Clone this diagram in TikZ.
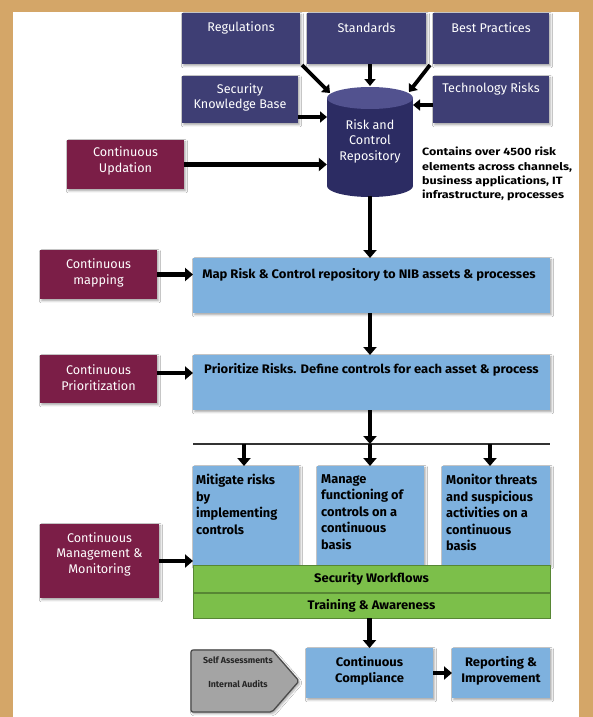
\documentclass[tikz,border=0pt]{standalone}
\usepackage{fontspec}
\setmainfont{Fira Sans}
\usetikzlibrary{arrows.meta,shadows.blur,calc}

\definecolor{frame}{HTML}{D4A668}
\definecolor{navy}{HTML}{3E3E74}
\definecolor{cylbody}{HTML}{2C2C63}
\definecolor{cyltop}{HTML}{52528F}
\definecolor{wine}{HTML}{7B1E47}
\definecolor{sky}{HTML}{7EB1DE}
\definecolor{leaf}{HTML}{7CBF4A}
\definecolor{stone}{HTML}{A4A4A4}

\tikzset{
  box/.style={rectangle, inner sep=0pt, outer sep=0pt,
    blur shadow={shadow xshift=1.5pt, shadow yshift=-1.8pt, shadow blur steps=4, shadow opacity=35}},
  navybox/.style={box, fill=navy},
  winebox/.style={box, fill=wine},
  skybox/.style={box, fill=sky},
  leafbox/.style={rectangle, inner sep=0pt, outer sep=0pt, fill=leaf, draw=leaf!70!black, line width=0.6pt},
  lighttext/.style={inner sep=0pt, text=white, align=center, font=\fontsize{12.6}{15.5}\selectfont},
  darktext/.style={inner sep=0pt, text=black, align=center,
    font=\bfseries\fontsize{12.4}{16}\selectfont\addfontfeature{FakeStretch=1.05}},
  listtext/.style={inner sep=0pt, text=black, align=left, anchor=north west,
    font=\bfseries\fontsize{12.8}{16.5}\selectfont},
  flow/.style={line width=4.5pt, -{Triangle[length=8pt,width=13pt]}},
  feed/.style={line width=3.8pt, -{Triangle[length=7pt,width=11pt]}}
}

\begin{document}
\begin{tikzpicture}[x=1pt,y=-1pt]
  % page frame
  \useasboundingbox (0,0) rectangle (593,717);
  \fill[frame] (0,0) rectangle (593,717);
  \fill[white] (13,12) rectangle (579,717);

  % sources feeding the repository
  \node[navybox, minimum width=118, minimum height=51] (reg)  at (241,38.5) {};
  \node[navybox, minimum width=119, minimum height=51] (std)  at (366.5,38.5) {};
  \node[navybox, minimum width=116, minimum height=51] (best) at (491,38.5) {};
  \node[navybox, minimum width=116, minimum height=47] (skb)  at (240,99.5) {};
  \node[navybox, minimum width=116, minimum height=47] (tech) at (491,99.5) {};
  \node[lighttext] (reg-t)  at (241,28) {Regulations};
  \node[lighttext] (std-t)  at (366.5,28) {Standards};
  \node[lighttext] (best-t) at (491,28) {Best Practices};
  \node[lighttext] (skb-t)  at (240,97.5) {Security\\Knowledge Base};
  \node[lighttext] (tech-t) at (491,89) {Technology Risks};

  % risk and control repository (cylinder)
  \fill[cylbody] (327,98) rectangle (413,186);
  \fill[cylbody] (370,186) ellipse [x radius=43, y radius=11];
  \fill[cyltop] (370,98) ellipse [x radius=43, y radius=11];
  \node[inner sep=0pt, minimum width=86, minimum height=110] (repo) at (370,142) {};
  \node[lighttext] (repo-t) at (370,141) {Risk and\\Control\\Repository};
  \node[inner sep=0pt, anchor=north west, align=left,
    font=\bfseries\fontsize{10.6}{14.3}\selectfont\addfontfeature{FakeStretch=1.18}] (note) at (422,147)
    {Contains over 4500 risk\\elements across channels,\\business applications, IT\\infrastructure, processes};

  \coordinate (repo-nw) at (330,93);
  \coordinate (repo-n)  at (370,86);
  \coordinate (repo-ne) at (409,92);
  \draw[feed] (reg.south east) ++(2,1) coordinate (reg-out) -- (repo-nw);
  \draw[feed] (repo-n |- std.south) -- (repo-n);
  \draw[feed] (best.south west) ++(-3,1) coordinate (best-out) -- (repo-ne);
  \draw[feed] (tech.west |- 0,105) -- (413,105) coordinate (repo-e);
  \draw[feed] (skb.east |- 0,117) -- (327,117) coordinate (repo-w);

  % continuous updation
  \node[winebox, minimum width=117, minimum height=49] (upd) at (125.5,164.5) {};
  \node[lighttext] (upd-t) at (125.5,161) {Continuous\\Updation};
  \draw[flow] (upd.east) -- (upd.east -| repo.west);

  % mapping stage
  \node[skybox, minimum width=357, minimum height=55] (map) at (371.5,285.5) {};
  \node[darktext] (map-t) at (369,275) {Map Risk \& Control repository to NIB assets \& processes};
  \node[winebox, minimum width=117, minimum height=49] (cmap) at (98.5,274.5) {};
  \node[lighttext] (cmap-t) at (98.5,273) {Continuous\\mapping};
  \draw[flow] (cmap.east) -- (cmap.east -| map.west);
  \draw[flow] (repo.south) ++(0,-1) coordinate (repo-s) -- (repo-s |- map.north);

  % prioritization stage
  \node[skybox, minimum width=357, minimum height=55] (prio) at (371.5,382.5) {};
  \node[darktext] (prio-t) at (371.5,370) {Prioritize Risks. Define controls for each asset \& process};
  \node[winebox, minimum width=117, minimum height=48] (cprio) at (98.5,379) {};
  \node[lighttext] (cprio-t) at (98.5,377.5) {Continuous\\Prioritization};
  \draw[flow] ($(cprio.east)+(0,-6)$) coordinate (cprio-out) -- (cprio-out -| prio.west);
  \draw[flow] (map.south -| repo-s) -- (prio.north -| repo-s);

  % distribution bar
  \coordinate (busL) at (193,444);
  \coordinate (busR) at (550,444);
  \draw[line width=2.4pt, black!80] (busL) -- (busR);
  \draw[flow] (prio.south -| repo-s) -- (busL -| repo-s);

  % three activities
  \node[skybox, minimum width=106, minimum height=99] (mit) at (246,515.5) {};
  \node[skybox, minimum width=107, minimum height=99] (man) at (370.5,515.5) {};
  \node[skybox, minimum width=108, minimum height=99] (mon) at (496,515.5) {};
  \node[listtext] (mit-t) at (196,474) {Mitigate risks\\by\\implementing\\controls};
  \node[listtext] (man-t) at (321,474) {Manage\\functioning of\\controls on a\\continuous\\basis};
  \node[listtext] (mon-t) at (446,474) {Monitor threats\\and suspicious\\activities on a\\continuous\\basis};
  \draw[flow] (busL -| 244,0) -- (mit.north -| 244,0);
  \draw[flow] (busL -| repo-s) -- (man.north -| repo-s);
  \draw[flow] (busL -| 490,0) -- (mon.north -| 490,0);

  % workflow and training bands
  \node[leafbox, minimum width=357, minimum height=27] (swf) at (371.5,578.5) {};
  \node[leafbox, minimum width=357, minimum height=25] (tra) at (371.5,605.5) {};
  \node[darktext] (swf-t) at (371.5,579) {Security Workflows};
  \node[darktext] (tra-t) at (371.5,606) {Training \& Awareness};

  \node[winebox, minimum width=119, minimum height=74] (cmm) at (99.5,561) {};
  \node[lighttext] (cmm-t) at (99.5,554) {Continuous\\Management \&\\Monitoring};
  \draw[flow] (cmm.east) -- (cmm.east -| mit.west);

  % compliance and reporting
  \node[skybox, minimum width=127, minimum height=50] (cc)  at (369.5,673) {};
  \node[skybox, minimum width=98,  minimum height=50] (rep) at (501,673) {};
  \node[darktext] (cc-t)  at (369.5,671) {Continuous\\Compliance};
  \node[darktext] (rep-t) at (501,671) {Reporting \&\\Improvement};
  \draw[flow] (tra.south -| cc.north) -- (cc.north);
  \draw[flow] (cc.east) -- (rep.west);

  % assessment inputs
  \coordinate (pa) at (191,650);
  \coordinate (pb) at (272,650);
  \coordinate (pc) at (299,681);
  \coordinate (pd) at (272,712);
  \coordinate (pe) at (191,712);
  \fill[stone, draw=black!70, line width=1.3pt, rounded corners=2pt,
    blur shadow={shadow xshift=1.5pt, shadow yshift=-1.8pt, shadow blur steps=4, shadow opacity=35}]
    (pa) -- (pb) -- (pc) -- (pd) -- (pe) -- cycle;
  \node[inner sep=0pt, text=black!85, font=\bfseries\fontsize{8.8}{10}\selectfont] (self-t) at (238,660) {Self Assessments};
  \node[inner sep=0pt, text=black!85, font=\bfseries\fontsize{8.8}{10}\selectfont] (audit-t) at (238,684) {Internal Audits};
\end{tikzpicture}
\end{document}
